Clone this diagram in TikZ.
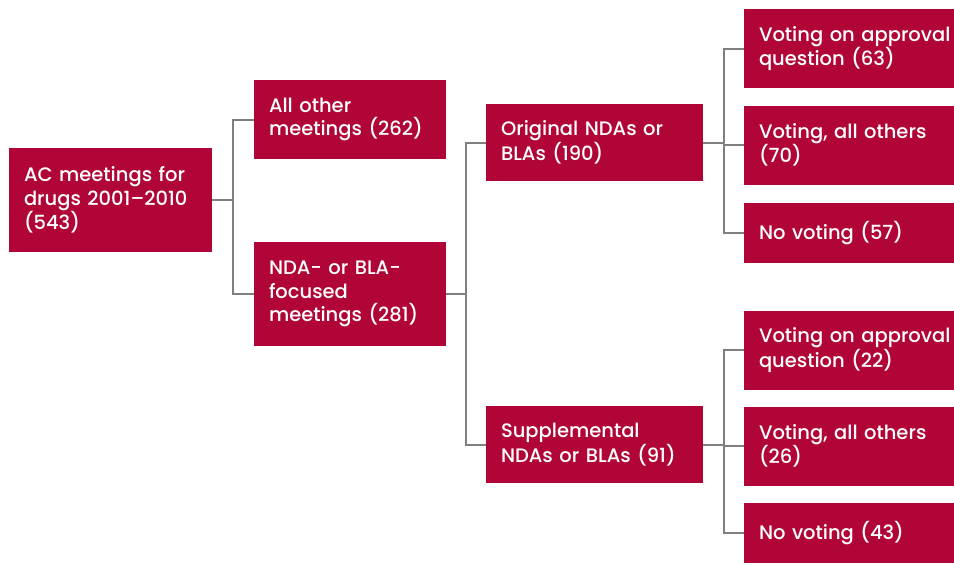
\documentclass[tikz,border=0pt]{standalone}
\usepackage{fontspec}
\setmainfont{Poppins Medium}
\usetikzlibrary{positioning}
\definecolor{acred}{HTML}{B10537}
\definecolor{linkgray}{HTML}{7F7F7F}
\tikzset{
    box/.style={
        fill=acred, text=white, align=left,
        inner xsep=15pt, inner ysep=0pt,
        font=\fontsize{19.5}{23.3}\selectfont,
        minimum height=#1
    },
    box/.default=79pt,
    link/.style={draw=linkgray, line width=2pt}
}

\begin{document}
\begin{tikzpicture}[x=1pt,y=-1pt]
    \useasboundingbox (0,0) rectangle (954,565);

    % level 0
    \node[box=104pt, text width=173pt] (ac) at (110.5,200) {AC meetings for\\drugs 2001--2010\\(543)};

    % level 1
    \node[box, text width=162pt] (allother) at (350,119.5) {All other\\meetings (262)};
    \node[box=104pt, text width=162pt] (nda) at (350,294) {NDA- or BLA-\\focused\\meetings (281)};

    % level 2
    \node[box=77pt, text width=187pt] (orig) at (594.5,142.5) {Original NDAs or\\BLAs (190)};
    \node[box=77pt, text width=187pt] (supp) at (594.5,444.5) {Supplemental\\NDAs or BLAs (91)};

    % level 3 (cut off by the page edge)
    \node[box, text width=195pt] (vote63) at (856.5,48.5) {Voting on approval\\question (63)};
    \node[box, text width=195pt] (vote70) at (856.5,145) {Voting, all others\\(70)};
    \node[box=60pt, text width=195pt] (novote57) at (856.5,233) {No voting (57)};
    \node[box, text width=195pt] (vote22) at (856.5,350) {Voting on approval\\question (22)};
    \node[box, text width=195pt] (vote26) at (856.5,446) {Voting, all others\\(26)};
    \node[box=60pt, text width=195pt] (novote43) at (856.5,533) {No voting (43)};

    % joints
    \coordinate (j1) at (233,200);
    \coordinate (j2) at (466,294);
    \coordinate (j3) at (724,143.5);
    \coordinate (j4) at (724,445);

    \draw[link] (ac.east) -- (j1) |- (allother.west);
    \draw[link] (j1) |- (nda.west);

    \draw[link] (nda.east) -- (j2) |- (orig.west);
    \draw[link] (j2) |- (supp.west);

    \draw[link] (orig.east) -| (j3) |- (vote63.west);
    \draw[link] (j3) |- (vote70.west);
    \draw[link] (j3) |- (novote57.west);

    \draw[link] (supp.east) -| (j4) |- (vote22.west);
    \draw[link] (j4) |- (vote26.west);
    \draw[link] (j4) |- (novote43.west);
\end{tikzpicture}
\end{document}
